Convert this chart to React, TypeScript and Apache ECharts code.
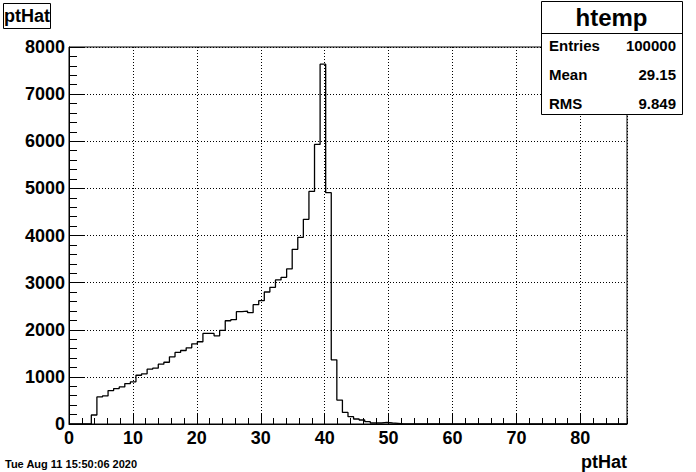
import React, { useEffect, useRef } from "react";
import * as echarts from "echarts";

// Histogram of ptHat: 100 bins from 0 to X_MAX
const X_MAX = 87.3;
const N_BINS = 100;
const binCounts: number[] = [
  0, 0, 0, 0, 191, 574, 596, 709, 752, 787,
  858, 894, 1035, 1064, 1163, 1184, 1270, 1310, 1426, 1518,
  1560, 1617, 1702, 1745, 1922, 1922, 1872, 1986, 2191, 2213,
  2383, 2397, 2362, 2532, 2617, 2801, 2901, 3057, 3113, 3290,
  3707, 3961, 4343, 4936, 5933, 7636, 4908, 1361, 507, 246,
  155, 106, 85, 49, 21, 21, 35, 21, 14, 0,
  0, 0, 0, 0, 0, 0, 0, 0, 0, 0,
  0, 0, 0, 0, 0, 0, 0, 0, 0, 0,
  0, 0, 0, 0, 0, 0, 0, 0, 0, 0,
  0, 0, 0, 0, 0, 0, 0, 0, 0, 0,
];
const xTickLabels = [0, 10, 20, 30, 40, 50, 60, 70, 80];
const yTickLabels = [0, 1000, 2000, 3000, 4000, 5000, 6000, 7000, 8000];
const statsNames = ["Entries", "Mean", "RMS"];
const statsValues = ["100000", "29.15", "9.849"];
const histName = "htemp";
const varName = "ptHat";
const dateText = "Tue Aug 11 15:50:06 2020";

const FONT = "'Liberation Sans', Arial, Helvetica, sans-serif";

export default function App() {
  const ref = useRef<HTMLDivElement>(null);
  useEffect(() => {
    document.body.style.margin = "0";
    if (!ref.current) return;
    const chart = echarts.init(ref.current, undefined, { renderer: "svg" });
    const bw = X_MAX / N_BINS;
    const pts: [number, number][] = binCounts.map((v, k) => [k * bw, v]);
    pts.push([X_MAX, binCounts[binCounts.length - 1]]);

    const gl = 69, gr = 627, gt = 47, gb = 424;
    const sx = 541, sy = 1, sw = 141, sh = 113;

    const xLabelSet = new Set(xTickLabels);
    const yLabelSet = new Set(yTickLabels);

    const option: any = {
      animation: false,
      backgroundColor: "#fff",
      grid: {
        left: gl,
        right: 696 - gr,
        top: gt,
        bottom: 472 - gb,
        show: true,
        borderColor: "#000",
        borderWidth: 1,
        containLabel: false,
      },
      xAxis: [
        {
          type: "value",
          position: "bottom",
          min: 0,
          max: X_MAX,
          interval: 10,
          axisLine: { show: true, lineStyle: { color: "#000", width: 1 } },
          axisTick: { show: true, inside: true, length: 11, lineStyle: { color: "#000" } },
          axisLabel: {
            show: true,
            margin: 5,
            color: "#000",
            fontFamily: FONT,
            fontWeight: "bold",
            fontSize: 18,
            showMaxLabel: false,
            formatter: (v: number) => {
              const r = Math.round(v);
              return Math.abs(v - r) < 1e-6 && xLabelSet.has(r) ? String(r) : "";
            },
          },
          splitLine: { show: true, lineStyle: { color: "#000", type: [1, 2], width: 1 } },
        },
        {
          type: "value",
          position: "bottom",
          min: 0,
          max: X_MAX,
          interval: 2,
          axisLine: { show: false },
          axisTick: { show: true, inside: true, length: 6, lineStyle: { color: "#000" } },
          axisLabel: { show: false },
          splitLine: { show: false },
        },
      ],
      yAxis: [
        {
          type: "value",
          position: "left",
          min: 0,
          max: 8000,
          interval: 1000,
          axisLine: { show: true, lineStyle: { color: "#000", width: 1 } },
          axisTick: { show: true, inside: true, length: 16, lineStyle: { color: "#000" } },
          axisLabel: {
            show: true,
            margin: 4,
            color: "#000",
            fontFamily: FONT,
            fontWeight: "bold",
            fontSize: 18,
            formatter: (v: number) => (yLabelSet.has(v) ? String(v) : ""),
          },
          splitLine: { show: true, lineStyle: { color: "#000", type: [1, 2], width: 1 } },
        },
        {
          type: "value",
          position: "left",
          min: 0,
          max: 8000,
          interval: 200,
          axisLine: { show: false },
          axisTick: { show: true, inside: true, length: 8, lineStyle: { color: "#000" } },
          axisLabel: { show: false },
          splitLine: { show: false },
        },
      ],
      series: [
        {
          type: "line",
          name: histName,
          xAxisIndex: 0,
          yAxisIndex: 0,
          step: "end",
          data: pts,
          showSymbol: false,
          symbol: "none",
          silent: true,
          lineStyle: { color: "#000", width: 1.3 },
          z: 3,
        },
      ],
      graphic: [
        {
          type: "rect",
          shape: { x: 3.5, y: 3.5, width: 47, height: 25 },
          style: { fill: "#fff", stroke: "#000", lineWidth: 1 },
          z: 10,
        },
        {
          type: "text",
          x: 27,
          y: 16,
          style: {
            text: varName,
            fill: "#000",
            font: `bold 18px ${FONT}`,
            textAlign: "center",
            textVerticalAlign: "middle",
          },
          z: 11,
        },
        {
          type: "rect",
          shape: { x: sx + 0.5, y: sy + 0.5, width: sw, height: sh },
          style: { fill: "#fff", stroke: "#000", lineWidth: 1 },
          z: 10,
        },
        {
          type: "line",
          shape: { x1: sx, y1: 33.5, x2: sx + sw, y2: 33.5 },
          style: { stroke: "#000", lineWidth: 1 },
          z: 11,
        },
        {
          type: "text",
          x: sx + sw / 2,
          y: 17,
          style: {
            text: histName,
            fill: "#000",
            font: `bold 24px ${FONT}`,
            textAlign: "center",
            textVerticalAlign: "middle",
          },
          z: 11,
        },
        ...statsNames.map((n, i) => ({
          type: "text",
          x: sx + 8,
          y: 45 + i * 29,
          style: {
            text: n,
            fill: "#000",
            font: `bold 15px ${FONT}`,
            textAlign: "left",
            textVerticalAlign: "middle",
          },
          z: 11,
        })),
        ...statsValues.map((v, i) => ({
          type: "text",
          x: sx + sw - 6,
          y: 45 + i * 29,
          style: {
            text: v,
            fill: "#000",
            font: `bold 15px ${FONT}`,
            textAlign: "right",
            textVerticalAlign: "middle",
          },
          z: 11,
        })),
        {
          type: "text",
          x: gr,
          y: 462,
          style: {
            text: varName,
            fill: "#000",
            font: `bold 18px ${FONT}`,
            textAlign: "right",
            textVerticalAlign: "middle",
          },
        },
        {
          type: "text",
          x: 5,
          y: 464,
          style: {
            text: dateText,
            fill: "#000",
            font: `bold 11px ${FONT}`,
            textAlign: "left",
            textVerticalAlign: "middle",
          },
        },
      ],
    };
    chart.setOption(option);
    return () => chart.dispose();
  }, []);
  return <div ref={ref} style={{ width: 696, height: 472 }} />;
}
